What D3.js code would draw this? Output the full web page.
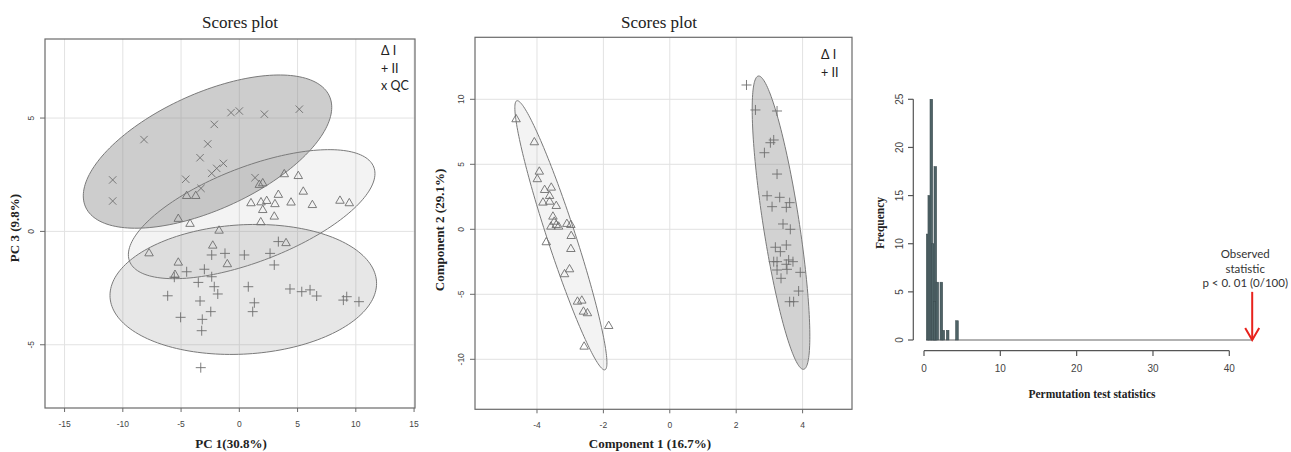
<!DOCTYPE html>
<html><head><meta charset="utf-8">
<script src="https://cdn.jsdelivr.net/npm/d3@7"></script>
<style>body{margin:0;background:#fff} svg{display:block}</style>
</head><body>
<svg id="chart" width="1291" height="452"></svg>
<script>
// ================= DATA =================
// Panel 1: PCA scores (PC1, PC3)
const pcaQC = [[-10.87,2.27],[-10.87,1.34],[-8.18,4.05],[-2.15,4.72],[-2.71,3.86],[-3.37,3.25],
  [-0.71,5.24],[0.0,5.31],[2.15,5.17],[5.15,5.39],[-4.60,2.30],[-3.29,1.90],[-2.37,2.56],
  [-1.94,2.78],[-1.37,3.00],[1.35,2.37]];
const pcaI = [[-4.52,1.56],[-3.74,1.56],[-5.24,0.55],[-4.23,0.33],[-1.74,0.03],[-7.75,-0.97],
  [-5.24,-1.38],[-5.52,-1.92],[-2.28,-0.63],[-1.03,-1.45],[4.01,-0.52],[1.72,2.05],[2.01,2.12],
  [3.86,2.52],[5.06,2.44],[3.35,1.61],[5.49,1.75],[1.00,1.24],[1.86,1.28],[2.35,1.34],[3.06,1.20],
  [4.44,1.27],[6.27,1.16],[2.01,0.94],[3.00,0.65],[1.84,0.40],[8.64,1.35],[9.44,1.24]];
const pcaII = [[3.35,-0.45],[-2.37,-1.04],[-1.23,-0.97],[0.43,-1.04],[2.64,-0.97],[3.00,-1.48],
  [-4.52,-1.78],[-3.00,-1.67],[-5.58,-2.02],[-3.52,-2.25],[-2.37,-2.00],[-2.15,-2.44],[-1.85,-2.76],
  [-6.15,-2.84],[-3.37,-3.07],[0.77,-2.44],[1.29,-3.15],[1.15,-3.54],[-2.45,-3.54],[-5.04,-3.79],
  [-3.18,-3.88],[-3.23,-4.38],[4.35,-2.54],[5.36,-2.66],[6.07,-2.58],[6.64,-2.85],[8.93,-3.03],
  [9.22,-2.88],[10.27,-3.10],[-3.31,-6.01]];
// confidence ellipses: centre and covariance (data units)
const pcaEllipseQC = {cx:-2.73, cy:3.52, sxx:113.7, syy:11.42, sxy:20.83};
const pcaEllipseI  = {cx:1.06,  cy:0.76, sxx:112.0, syy:8.10,  sxy:18.93};
const pcaEllipseII = {cx:0.34,  cy:-2.56, sxx:130.9, syy:8.22, sxy:3.03};
const pcaXTicks = [-15,-10,-5,0,5,10,15];
const pcaYTicks = [-5,0,5];

// Panel 2: PLS-DA scores (Component 1, Component 2)
const plsI = [[-4.63,8.46],[-4.08,6.69],[-3.93,4.43],[-3.99,3.85],[-3.77,3.02],[-3.57,3.20],
  [-3.62,2.56],[-3.82,2.05],[-3.62,2.12],[-3.42,1.79],[-3.52,0.97],[-3.48,0.58],[-3.35,0.20],
  [-3.10,0.41],[-3.58,0.20],[-3.42,0.33],[-2.98,0.33],[-3.72,-1.00],[-2.97,-0.52],[-2.98,-1.52],
  [-3.02,-3.08],[-3.17,-3.46],[-2.78,-5.57],[-2.65,-5.49],[-2.60,-6.34],[-2.48,-6.46],
  [-1.84,-7.44],[-2.58,-9.03]];
const plsII = [[2.31,11.10],[2.58,9.18],[3.23,9.10],[3.03,6.66],[3.13,6.87],[2.85,5.89],
  [3.23,4.25],[2.93,2.58],[3.31,2.46],[3.08,1.74],[3.51,1.69],[3.61,2.05],[3.41,0.41],
  [3.63,0.00],[3.51,-1.21],[3.18,-1.38],[3.33,-1.72],[3.13,-2.49],[3.23,-2.49],[3.58,-2.36],
  [3.71,-2.49],[3.51,-2.69],[3.53,-3.08],[3.23,-3.13],[3.35,-3.77],[3.93,-3.31],[3.88,-4.75],
  [3.61,-5.57],[3.73,-5.57]];
const plsEllipseI  = {cx:-3.28, cy:-0.46, sxx:1.923, syy:107.2, sxy:-13.6};
const plsEllipseII = {cx:3.35,  cy:0.51,  sxx:0.7535, syy:127.3, sxy:-7.58};
const plsXTicks = [-4,-2,0,2,4];
const plsYTicks = [-10,-5,0,5,10];

// Panel 3: permutation test histogram
const permBinStart = [0.31,0.52,0.79,1.00,1.31,1.22,1.57,2.10,2.36,2.93,4.15];
const permCounts   = [11,15,25,10,18,4,6,6,1,1,2];
const permBinWidth = 0.34;
const permZeroFrom = 0.3;
const observedStat = 43.0;
const arrowFrom = 5;
const histXTicks = [0,10,20,30,40];
const histYTicks = [0,5,10,15,20,25];
const annotLines = ["Observed", "statistic", "p < 0. 01 (0/100)"];

// ================= DRAWING =================
const svg = d3.select("#chart");
const markColor = "#6e6e6e";
const serif = "'Liberation Serif','Times New Roman',serif";
const sans = "'Liberation Sans',Arial,sans-serif";
const legendFont = "Lato,'Open Sans',sans-serif";

function markPath(type){
  if (type === "tri") { const h=4.25; return `M0,-4.9L${h},2.45L${-h},2.45Z`; }
  if (type === "plus") { const r=5; return `M${-r},0H${r}M0,${-r}V${r}`; }
  const r=3.7; return `M${-r},${-r}L${r},${r}M${-r},${r}L${r},${-r}`;
}

function ellipsePoints(e){
  const l11 = Math.sqrt(e.sxx), l21 = e.sxy / l11, l22 = Math.sqrt(e.syy - l21*l21);
  return d3.range(0, 360, 2).map(a => {
    const t = a*Math.PI/180;
    return [e.cx + l11*Math.cos(t), e.cy + l21*Math.cos(t) + l22*Math.sin(t)];
  });
}

function scatterPanel(cfg){
  const g = svg.append("g");
  const x = d3.scaleLinear().domain(cfg.xDomain).range([cfg.left, cfg.right]);
  const y = d3.scaleLinear().domain(cfg.yDomain).range([cfg.bottom, cfg.top]);
  // grid
  g.selectAll(".gx").data(cfg.xTicks).join("line")
    .attr("x1", d=>x(d)).attr("x2", d=>x(d)).attr("y1", cfg.top).attr("y2", cfg.bottom)
    .attr("stroke", "#e2e2e2").attr("stroke-width", 1);
  g.selectAll(".gy").data(cfg.yTicks).join("line")
    .attr("y1", d=>y(d)).attr("y2", d=>y(d)).attr("x1", cfg.left).attr("x2", cfg.right)
    .attr("stroke", "#e2e2e2").attr("stroke-width", 1);
  // ellipses
  const line = d3.line().x(d=>x(d[0])).y(d=>y(d[1])).curve(d3.curveLinearClosed);
  cfg.ellipses.forEach(el => {
    g.append("path").attr("d", line(ellipsePoints(el.e)))
      .attr("fill", "#888").attr("fill-opacity", el.op)
      .attr("stroke", "#7a7a7a").attr("stroke-width", 1);
  });
  // points
  cfg.groups.forEach(gr => {
    g.selectAll(null).data(gr.data).join("path")
      .attr("d", markPath(gr.type))
      .attr("transform", d=>`translate(${x(d[0])},${y(d[1])})`)
      .attr("fill", "none").attr("stroke", markColor).attr("stroke-width", 0.9);
  });
  // box
  g.append("rect").attr("x", cfg.left).attr("y", cfg.top)
    .attr("width", cfg.right-cfg.left).attr("height", cfg.bottom-cfg.top)
    .attr("fill", "none").attr("stroke", "#6a6a6a").attr("stroke-width", 1.2);
  // x axis ticks
  g.selectAll(".tx").data(cfg.xTicks).join("line")
    .attr("x1", d=>x(d)).attr("x2", d=>x(d)).attr("y1", cfg.bottom).attr("y2", cfg.bottom+4)
    .attr("stroke", "#6a6a6a");
  g.selectAll(".lx").data(cfg.xTicks).join("text")
    .attr("x", d=>x(d)).attr("y", cfg.bottom+19).attr("text-anchor","middle")
    .attr("font-family", sans).attr("font-size", 8.5).attr("fill", "#444")
    .text(d=>d);
  // y axis ticks
  g.selectAll(".ty").data(cfg.yTicks).join("line")
    .attr("y1", d=>y(d)).attr("y2", d=>y(d)).attr("x1", cfg.left-5).attr("x2", cfg.left)
    .attr("stroke", "#6a6a6a");
  g.selectAll(".ly").data(cfg.yTicks).join("text")
    .attr("transform", d=>`translate(${cfg.left-11},${y(d)}) rotate(-90)`)
    .attr("text-anchor","middle")
    .attr("font-family", sans).attr("font-size", 8.5).attr("fill", "#444")
    .text(d=>d);
  // title
  g.append("text").attr("x", cfg.titleX).attr("y", 28).attr("text-anchor","middle")
    .attr("font-family", serif).attr("font-size", 17).attr("fill", "#222").text("Scores plot");
  // axis labels
  g.append("text").attr("x", cfg.xLabelX).attr("y", 448).attr("text-anchor","middle")
    .attr("font-family", serif).attr("font-weight","bold").attr("font-size", 13).attr("fill","#222")
    .text(cfg.xLabel);
  g.append("text").attr("transform", `translate(${cfg.yLabelX},${cfg.yLabelY}) rotate(-90)`)
    .attr("text-anchor","middle")
    .attr("font-family", serif).attr("font-weight","bold").attr("font-size", 13).attr("fill","#222")
    .text(cfg.yLabel);
  // legend
  cfg.legend.forEach((t,i) => {
    g.append("text").attr("x", cfg.legendX).attr("y", cfg.legendY + i*17.5)
      .attr("font-family", legendFont).attr("font-size", 12.5).attr("fill", "#222").text(t);
  });
}

scatterPanel({
  left:45, right:415, top:39, bottom:408,
  xDomain:[-16.68,15.08], yDomain:[-7.79,8.487],
  xTicks:pcaXTicks, yTicks:pcaYTicks,
  ellipses:[{e:pcaEllipseQC, op:0.42},{e:pcaEllipseI, op:0.1},{e:pcaEllipseII, op:0.2}],
  groups:[{data:pcaQC,type:"x"},{data:pcaI,type:"tri"},{data:pcaII,type:"plus"}],
  titleX:240, xLabelX:231, xLabel:"PC 1(30.8%)", yLabelX:19, yLabelY:228, yLabel:"PC 3 (9.8%)",
  legend:["\u0394 I","+ II","x QC"], legendX:381, legendY:55
});

scatterPanel({
  left:475, right:852, top:37.3, bottom:409.3,
  xDomain:[-5.867,5.488], yDomain:[-13.846,14.769],
  xTicks:plsXTicks, yTicks:plsYTicks,
  ellipses:[{e:plsEllipseI, op:0.1},{e:plsEllipseII, op:0.38}],
  groups:[{data:plsI,type:"tri"},{data:plsII,type:"plus"}],
  titleX:659, xLabelX:650, xLabel:"Component 1 (16.7%)", yLabelX:444, yLabelY:230, yLabel:"Component 2 (29.1%)",
  legend:["\u0394 I","+ II"], legendX:821, legendY:59
});

// ---------- histogram ----------
(function(){
  const g = svg.append("g");
  const x = d3.scaleLinear().domain([0,40]).range([924,1229.3]);
  const y = d3.scaleLinear().domain([0,25]).range([340,99.3]);
  const axisColor = "#555";
  // zero-height bins line
  g.append("line").attr("x1", x(permZeroFrom)).attr("x2", x(observedStat))
    .attr("y1", y(0)).attr("y2", y(0)).attr("stroke", "#666").attr("stroke-width", 1.2);
  // bars
  g.selectAll(".bar").data(permBinStart.map((s,i)=>({s, c:permCounts[i]}))).join("rect")
    .attr("x", d=>x(d.s)).attr("width", d=>x(d.s+permBinWidth)-x(d.s))
    .attr("y", d=>y(d.c)).attr("height", d=>y(0)-y(d.c))
    .attr("fill", "#4f6367").attr("stroke", "#3c4c50").attr("stroke-width", 0.6);
  // y axis
  g.append("line").attr("x1", 913.3).attr("x2", 913.3).attr("y1", y(0)).attr("y2", y(25))
    .attr("stroke", axisColor).attr("stroke-width", 1.2);
  g.selectAll(".ty").data(histYTicks).join("line")
    .attr("x1", 908).attr("x2", 913.3).attr("y1", d=>y(d)).attr("y2", d=>y(d))
    .attr("stroke", axisColor).attr("stroke-width", 1.2);
  g.selectAll(".ly").data(histYTicks).join("text")
    .attr("transform", d=>`translate(902.5,${y(d)}) rotate(-90)`).attr("text-anchor","middle")
    .attr("font-family", sans).attr("font-size", 10).attr("fill", "#444").text(d=>d);
  // x axis
  g.append("line").attr("x1", x(0)).attr("x2", x(40)).attr("y1", 350.7).attr("y2", 350.7)
    .attr("stroke", axisColor).attr("stroke-width", 1.2);
  g.selectAll(".tx").data(histXTicks).join("line")
    .attr("x1", d=>x(d)).attr("x2", d=>x(d)).attr("y1", 350.7).attr("y2", 356)
    .attr("stroke", axisColor).attr("stroke-width", 1.2);
  g.selectAll(".lx").data(histXTicks).join("text")
    .attr("x", d=>x(d)).attr("y", 372).attr("text-anchor","middle")
    .attr("font-family", sans).attr("font-size", 10).attr("fill", "#444").text(d=>d);
  // labels
  g.append("text").attr("x", 1092).attr("y", 398).attr("text-anchor","middle")
    .attr("font-family", serif).attr("font-weight","bold").attr("font-size", 11.5).attr("fill","#222")
    .text("Permutation test statistics");
  g.append("text").attr("transform", "translate(884,223) rotate(-90)").attr("text-anchor","middle")
    .attr("font-family", serif).attr("font-weight","bold").attr("font-size", 11.5).attr("fill","#222")
    .text("Frequency");
  // arrow
  const ax = x(observedStat);
  g.append("line").attr("x1", ax).attr("x2", ax).attr("y1", y(arrowFrom)).attr("y2", y(0))
    .attr("stroke", "#e8221c").attr("stroke-width", 2);
  g.append("path").attr("d", `M${ax-7},${y(0)-12}L${ax},${y(0)}L${ax+7},${y(0)-12}`)
    .attr("fill","none").attr("stroke", "#e8221c").attr("stroke-width", 2);
  // annotation
  annotLines.forEach((t,i) => {
    g.append("text").attr("x", x(observedStat)-7).attr("y", 258 + i*14.5).attr("text-anchor","middle")
      .attr("font-family", legendFont).attr("font-size", 11.5).attr("fill", "#333").text(t);
  });
})();
</script>
</body></html>
